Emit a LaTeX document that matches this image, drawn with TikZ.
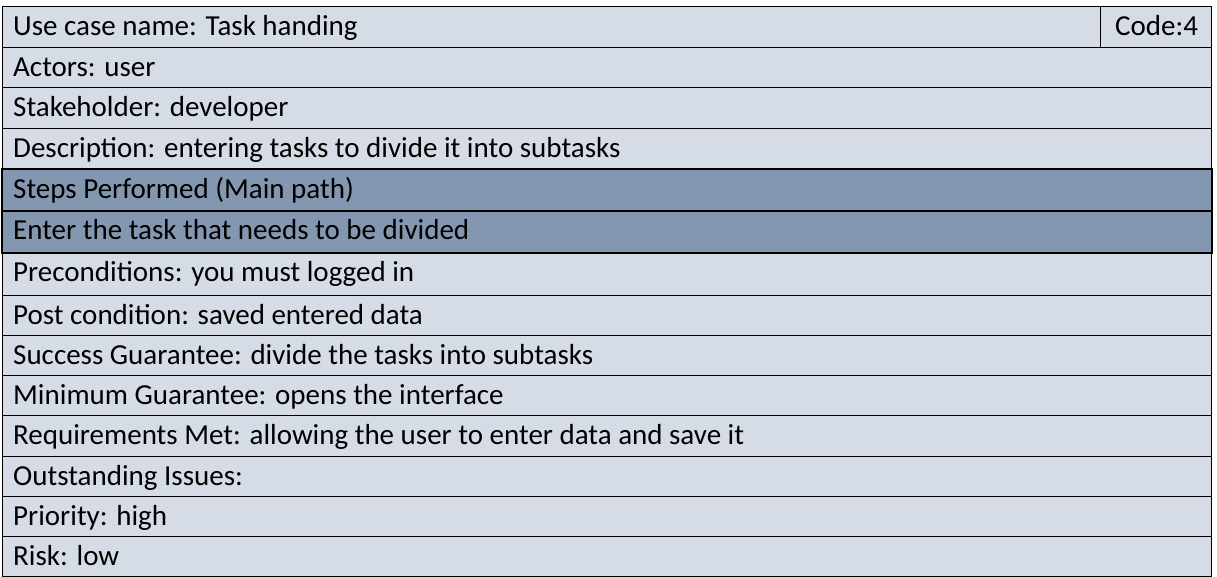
\documentclass[tikz,border=0pt]{standalone}
\usepackage{fontspec}
\setmainfont{Carlito}
\usetikzlibrary{positioning}
\definecolor{rowlight}{HTML}{D6DCE5}
\definecolor{rowdark}{HTML}{8497B0}
\tikzset{
    celltext/.style={anchor=base west, inner sep=0pt, font=\fontsize{29}{33}\selectfont},
    thinrule/.style={draw=black, line width=1pt},
    thickrule/.style={draw=black, line width=2pt}
}
\begin{document}
\begin{tikzpicture}[x=1pt, y=-1pt]
    \useasboundingbox (0, 0) rectangle (1217, 577);
    \fill[rowlight] (2, 7) rectangle (1211, 576);
    % light rows
    \foreach \n/\ytop/\ybot/\txt in {
        0/7/47.5/{Use case name: Task handing},
        1/47.5/88/{Actors: user},
        2/88/128.5/{Stakeholder: developer},
        3/128.5/169.5/{Description: entering tasks to divide it into subtasks},
        6/252.7/295.3/{Preconditions: you must logged in},
        7/295.3/335.3/{Post condition: saved entered data},
        8/335.3/375.7/{Success Guarantee: divide the tasks into subtasks},
        9/375.7/415.7/{Minimum Guarantee: opens the interface},
        10/415.7/456/{Requirements Met: allowing the user to enter data and save it},
        11/456/496/{Outstanding Issues:},
        12/496/536/{Priority: high},
        13/536/576/{Risk: low}} {
        \draw[thinrule] (2, \ytop) rectangle (1211, \ybot);
        \node[celltext] (row\n) at (13, \ytop + 29) {\txt};
    }
    % dark rows
    \foreach \n/\ytop/\ybot/\txt in {
        4/169.5/211/{Steps Performed (Main path)},
        5/211/252.7/{Enter the task that needs to be divided}} {
        \fill[rowdark] (2, \ytop) rectangle (1212, \ybot);
        \draw[thickrule] (2, \ytop) rectangle (1212, \ybot);
        \node[celltext] (row\n) at (13, \ytop + 29) {\txt};
    }
    \draw[thinrule] (1100.7, 7) -- (1100.7, 47.5);
    \node[celltext] (code) at (1115, 36) {Code:4};
\end{tikzpicture}
\end{document}
